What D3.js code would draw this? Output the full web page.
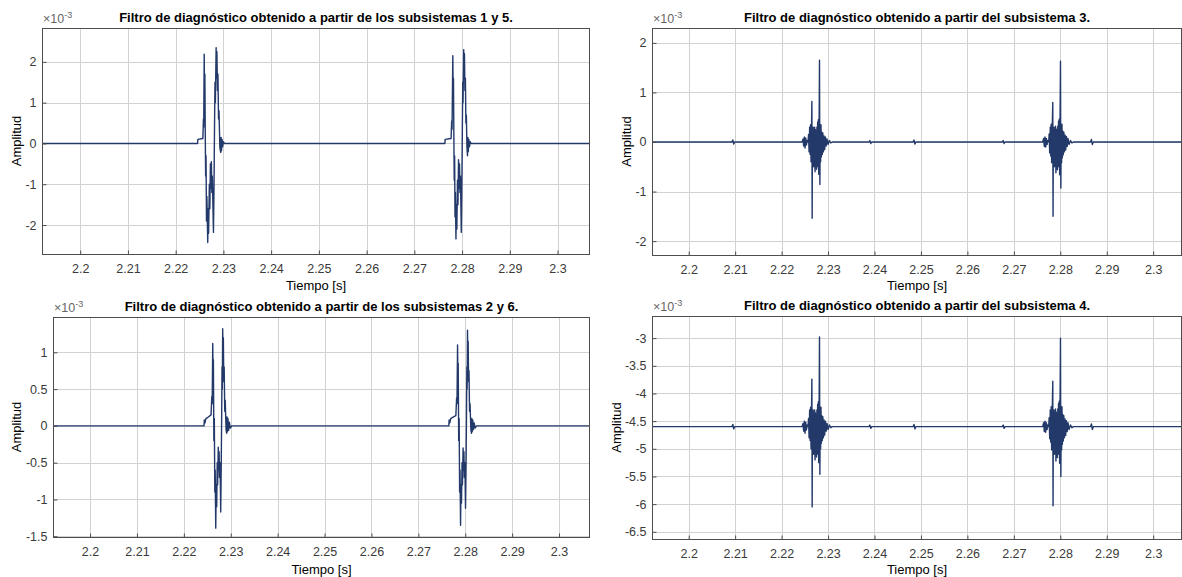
<!DOCTYPE html>
<html>
<head>
<meta charset="utf-8">
<script src="https://cdn.jsdelivr.net/npm/d3@7"></script>
<style>
  body { margin: 0; background: #fff; }
  svg { display: block; font-family: "Liberation Sans", Arial, sans-serif; }
</style>
</head>
<body>
<svg id="chart" width="1182" height="577"></svg>
<script>
// =========================================================
//  Filtros de diagnóstico — 4 panels (2x2), MATLAB style
//  values in units of 1e-3
// =========================================================

const X_TICKS = [2.2, 2.21, 2.22, 2.23, 2.24, 2.25, 2.26, 2.27, 2.28, 2.29, 2.3];
const X_TICK_LABELS = ['2.2', '2.21', '2.22', '2.23', '2.24', '2.25', '2.26', '2.27', '2.28', '2.29', '2.3'];

const TITLES = [
  'Filtro de diagnóstico obtenido a partir de los subsistemas 1 y 5.',
  'Filtro de diagnóstico obtenido a partir del subsistema 3.',
  'Filtro de diagnóstico obtenido a partir de los subsistemas 2 y 6.',
  'Filtro de diagnóstico obtenido a partir del subsistema 4.'
];

const Y_TICKS_A = [-2, -1, 0, 1, 2];
const Y_TICKS_B = [-2, -1, 0, 1, 2];
const Y_TICKS_C = [-1.5, -1, -0.5, 0, 0.5, 1];
const Y_TICKS_D = [-6.5, -6, -5.5, -5, -4.5, -4, -3.5, -3];

const BASE_A = 0, BASE_B = 0, BASE_C = 0, BASE_D = -4.6;

// --- subsistemas 1 y 5 ---
const A_BURST1 = [
  [2.2246, 0], [2.22465, 0.1], [2.2257, 0.12], [2.22582, 0.6], [2.22588, 0.4], [2.22598, 2.19],
  [2.22606, 1.0], [2.22612, 1.7], [2.2262, 0.3], [2.22628, -0.8], [2.22636, -0.3], [2.22646, -1.9],
  [2.22654, -1.3], [2.22672, -2.43], [2.22682, -1.6], [2.2269, -2.2], [2.22706, -1.0], [2.22716, -1.6],
  [2.22728, -0.5], [2.22738, -1.1], [2.22748, -0.45], [2.22758, -1.2], [2.22768, -0.8], [2.22792, -2.18],
  [2.22804, -1.0], [2.22814, 0.4], [2.22824, 1.5], [2.22832, 1.0], [2.22848, 2.35], [2.22856, 1.6],
  [2.22864, 2.25], [2.22876, 1.3], [2.22886, 1.7], [2.22898, 0.6], [2.22908, 0.8], [2.22926, -0.1],
  [2.22944, -0.22], [2.22952, 0.15], [2.2296, -0.18], [2.22972, 0.1], [2.22984, -0.08], [2.23, 0.04],
  [2.2302, 0]
];
const A_BURST2 = [
  [2.2764, 0], [2.27645, 0.1], [2.2777, 0.12], [2.27782, 0.55], [2.2779, 0.35], [2.27806, 2.15],
  [2.27814, 1.0], [2.2782, 1.6], [2.27828, 0.2], [2.27836, -0.9], [2.27844, -0.3], [2.27852, -1.8],
  [2.2786, -1.2], [2.27872, -2.34], [2.2788, -1.5], [2.2789, -2.1], [2.27904, -0.9], [2.27914, -1.5],
  [2.27926, -0.4], [2.27936, -1.1], [2.27946, -0.5], [2.27956, -1.2], [2.27966, -0.8], [2.27984, -2.18],
  [2.27996, -1.0], [2.28006, 0.4], [2.28014, 1.5], [2.2802, 1.0], [2.28034, 2.3], [2.28042, 1.6],
  [2.2805, 2.2], [2.2806, 1.3], [2.2807, 1.6], [2.2808, 0.5], [2.2809, 0.7], [2.28102, -0.1],
  [2.28114, -0.3], [2.28122, 0.15], [2.2813, -0.2], [2.28142, 0.1], [2.28156, -0.08], [2.2817, 0.04],
  [2.2819, 0]
];

// --- subsistema 3 ---
const B_BURST1 = [
  [2.2244, 0], [2.22462, 0.06], [2.22475, -0.08], [2.2249, 0.1], [2.22505, -0.12], [2.2252, 0.08],
  [2.22535, -0.06], [2.2255, 0.03], [2.2257, 0], [2.2258, 0.15], [2.22592, -0.2], [2.22604, 0.3],
  [2.22614, -0.25], [2.22624, 0.35], [2.22634, -0.4], [2.22644, 0.25], [2.22652, 0.82], [2.22658, -1.54],
  [2.22664, 0.2], [2.22672, -0.45], [2.2268, 0.3], [2.22688, -0.5], [2.22696, 0.2], [2.22704, -0.35],
  [2.22712, 0.3], [2.2272, -0.6], [2.22728, 0.25], [2.22736, -0.45], [2.22744, 0.2], [2.22752, -0.55],
  [2.2276, 0.3], [2.22768, -0.5], [2.22776, 0.4], [2.22784, -0.3], [2.22792, 0.45], [2.228, -0.65],
  [2.22808, 0.35], [2.22816, 1.65], [2.22824, -0.86], [2.22832, 0.3], [2.2284, -0.4], [2.22848, 0.35],
  [2.22856, -0.3], [2.22866, 0.2], [2.22876, -0.25], [2.22888, 0.18], [2.229, -0.2], [2.22914, 0.12],
  [2.22928, -0.15], [2.22944, 0.1], [2.2296, -0.08], [2.22978, 0.06], [2.23, -0.05], [2.2303, 0.03],
  [2.2306, -0.02], [2.2309, 0]
];
const B_BURST2 = [
  [2.2762, 0], [2.27642, 0.07], [2.27656, -0.09], [2.2767, 0.1], [2.27686, -0.1], [2.277, 0.07],
  [2.27716, -0.05], [2.2773, 0.03], [2.2775, 0], [2.2776, 0.16], [2.27772, -0.22], [2.27784, 0.3],
  [2.27794, -0.28], [2.27804, 0.36], [2.27814, -0.42], [2.27826, 0.25], [2.27838, 0.8], [2.27844, -1.5],
  [2.2785, 0.22], [2.27858, -0.48], [2.27866, 0.3], [2.27874, -0.5], [2.27882, 0.22], [2.2789, -0.38],
  [2.27898, 0.32], [2.27906, -0.62], [2.27914, 0.26], [2.27922, -0.46], [2.2793, 0.22], [2.27938, -0.56],
  [2.27946, 0.32], [2.27954, -0.5], [2.27962, 0.42], [2.2797, -0.32], [2.27978, 0.46], [2.27986, -0.66],
  [2.27994, 0.38], [2.28004, 1.63], [2.28012, -0.93], [2.2802, 0.32], [2.28028, -0.42], [2.28036, 0.36],
  [2.28044, -0.32], [2.28054, 0.22], [2.28064, -0.26], [2.28076, 0.2], [2.28088, -0.2], [2.28102, 0.14],
  [2.28116, -0.16], [2.28132, 0.11], [2.28148, -0.09], [2.28166, 0.07], [2.28188, -0.05], [2.2822, 0.03],
  [2.2825, -0.02], [2.2828, 0]
];
const B_BLIPS = [
  [2.2093, 0], [2.2095, 0.04], [2.2097, -0.04], [2.2099, 0],
  [2.2388, 0], [2.239, 0.03], [2.2392, -0.03], [2.2394, 0],
  [2.2483, 0], [2.2485, 0.04], [2.2487, -0.04], [2.2489, 0],
  [2.2675, 0], [2.2677, 0.03], [2.2679, -0.03], [2.2681, 0],
  [2.2865, 0], [2.2867, 0.05], [2.2869, -0.05], [2.2871, 0]
];

// --- subsistemas 2 y 6 ---
const C_BURST1 = [
  [2.2243, 0], [2.22436, 0.08], [2.2245, 0.04], [2.2247, 0.1], [2.2252, 0.12], [2.2258, 0.15],
  [2.22596, 0.4], [2.22604, 0.3], [2.22616, 1.12], [2.22624, 0.6], [2.2263, 0.9], [2.2264, -0.2],
  [2.2265, 0.1], [2.2266, -0.9], [2.22668, -0.6], [2.2268, -1.39], [2.2269, -0.8], [2.227, -1.1],
  [2.22712, -0.5], [2.2272, -0.8], [2.22734, -0.29], [2.22744, -0.6], [2.22752, -0.35], [2.2276, -0.7],
  [2.22772, -0.5], [2.22786, -1.17], [2.22796, -0.6], [2.22806, 0.1], [2.22814, 0.8], [2.2282, 0.5],
  [2.22828, 1.32], [2.22836, 0.9], [2.22842, 1.2], [2.22852, 0.6], [2.2286, 0.8], [2.22872, 0.2],
  [2.22882, 0.35], [2.229, -0.05], [2.22912, -0.1], [2.2292, 0.12], [2.22928, -0.08], [2.2294, 0.1],
  [2.22954, -0.06], [2.2297, 0.05], [2.2299, -0.03], [2.2302, 0]
];
const C_BURST2 = [
  [2.2765, 0], [2.27656, 0.08], [2.2767, 0.04], [2.2769, 0.1], [2.2774, 0.12], [2.278, 0.14],
  [2.27816, 0.38], [2.27824, 0.3], [2.27836, 1.1], [2.27844, 0.6], [2.2785, 0.85], [2.2786, -0.2],
  [2.2787, 0.1], [2.2788, -0.9], [2.27888, -0.6], [2.279, -1.35], [2.2791, -0.8], [2.2792, -1.05],
  [2.27932, -0.5], [2.2794, -0.8], [2.27954, -0.3], [2.27964, -0.6], [2.27972, -0.35], [2.2798, -0.7],
  [2.27992, -0.5], [2.28006, -1.12], [2.28016, -0.6], [2.28026, 0.1], [2.28034, 0.8], [2.2804, 0.5],
  [2.28048, 1.3], [2.28056, 0.9], [2.28062, 1.15], [2.28072, 0.6], [2.2808, 0.75], [2.28092, 0.2],
  [2.28102, 0.3], [2.2812, -0.05], [2.28132, -0.1], [2.2814, 0.1], [2.28148, -0.08], [2.2816, 0.08],
  [2.28174, -0.05], [2.2819, 0.04], [2.2821, -0.03], [2.2824, 0]
];

// --- subsistema 4 ---
const D_BURST1 = [
  [2.2244, -4.6], [2.22462, -4.54], [2.22475, -4.68], [2.2249, -4.5], [2.22505, -4.72], [2.2252, -4.52],
  [2.22535, -4.66], [2.2255, -4.57], [2.2257, -4.6], [2.2258, -4.45], [2.22592, -4.8], [2.22604, -4.3],
  [2.22614, -4.85], [2.22624, -4.25], [2.22634, -5.0], [2.22644, -4.35], [2.22652, -3.74], [2.22658, -6.05],
  [2.22664, -4.4], [2.22672, -5.05], [2.2268, -4.3], [2.22688, -5.1], [2.22696, -4.4], [2.22704, -4.95],
  [2.22712, -4.3], [2.2272, -5.2], [2.22728, -4.35], [2.22736, -5.05], [2.22744, -4.4], [2.22752, -5.15],
  [2.2276, -4.3], [2.22768, -5.1], [2.22776, -4.2], [2.22784, -4.9], [2.22792, -4.15], [2.228, -5.25],
  [2.22808, -4.25], [2.22816, -2.98], [2.22824, -5.46], [2.22832, -4.3], [2.2284, -5.0], [2.22848, -4.25],
  [2.22856, -4.9], [2.22866, -4.4], [2.22876, -4.85], [2.22888, -4.42], [2.229, -4.8], [2.22914, -4.48],
  [2.22928, -4.75], [2.22944, -4.5], [2.2296, -4.68], [2.22978, -4.54], [2.23, -4.65], [2.2303, -4.57],
  [2.2306, -4.62], [2.2309, -4.6]
];
const D_BURST2 = [
  [2.2762, -4.6], [2.27642, -4.53], [2.27656, -4.69], [2.2767, -4.5], [2.27686, -4.7], [2.277, -4.53],
  [2.27716, -4.65], [2.2773, -4.57], [2.2775, -4.6], [2.2776, -4.44], [2.27772, -4.82], [2.27784, -4.3],
  [2.27794, -4.88], [2.27804, -4.24], [2.27814, -5.02], [2.27826, -4.35], [2.27838, -3.78], [2.27844, -6.03],
  [2.2785, -4.38], [2.27858, -5.08], [2.27866, -4.3], [2.27874, -5.1], [2.27882, -4.38], [2.2789, -4.98],
  [2.27898, -4.28], [2.27906, -5.22], [2.27914, -4.34], [2.27922, -5.06], [2.2793, -4.38], [2.27938, -5.16],
  [2.27946, -4.28], [2.27954, -5.1], [2.27962, -4.18], [2.2797, -4.92], [2.27978, -4.14], [2.27986, -5.26],
  [2.27994, -4.22], [2.28004, -3.0], [2.28012, -5.5], [2.2802, -4.28], [2.28028, -5.02], [2.28036, -4.24],
  [2.28044, -4.92], [2.28054, -4.38], [2.28064, -4.86], [2.28076, -4.4], [2.28088, -4.8], [2.28102, -4.46],
  [2.28116, -4.76], [2.28132, -4.49], [2.28148, -4.69], [2.28166, -4.53], [2.28188, -4.65], [2.2822, -4.57],
  [2.2825, -4.62], [2.2828, -4.6]
];
const D_BLIPS = [
  [2.2093, -4.6], [2.2095, -4.56], [2.2097, -4.64], [2.2099, -4.6],
  [2.2388, -4.6], [2.239, -4.57], [2.2392, -4.63], [2.2394, -4.6],
  [2.2483, -4.6], [2.2485, -4.56], [2.2487, -4.64], [2.2489, -4.6],
  [2.2675, -4.6], [2.2677, -4.57], [2.2679, -4.63], [2.2681, -4.6],
  [2.2865, -4.6], [2.2867, -4.55], [2.2869, -4.65], [2.2871, -4.6]
];

// ---------------------------------------------------------
const LINE_COLOR = '#22396a';
const GRID_COLOR = '#d2d2d2';
const AXIS_COLOR = '#4d4d4d';
const TEXT_COLOR = '#3a3a3a';
const FONT = '"Liberation Sans", Arial, sans-serif';

const svg = d3.select('#chart');

const panels = [
  { box: { l: 42, t: 28, r: 590, b: 254 }, xDom: [2.192, 2.3068], yDom: [-2.71, 2.83],
    yTicks: Y_TICKS_A, base: BASE_A, series: [A_BURST1, A_BURST2], title: TITLES[0],
    titleY: 22, xLabY: 290, yLabX: 21 },
  { box: { l: 652, t: 28, r: 1182, b: 255 }, xDom: [2.1921, 2.3062], yDom: [-2.28, 2.3],
    yTicks: Y_TICKS_B, base: BASE_B, series: [B_BLIPS, B_BURST1, B_BURST2], title: TITLES[1],
    titleY: 22, xLabY: 290, yLabX: 631 },
  { box: { l: 53, t: 317, r: 590, b: 537 }, xDom: [2.1921, 2.3066], yDom: [-1.51, 1.48],
    yTicks: Y_TICKS_C, base: BASE_C, series: [C_BURST1, C_BURST2], title: TITLES[2],
    titleY: 311, xLabY: 574, yLabX: 21 },
  { box: { l: 652, t: 316, r: 1182, b: 539 }, xDom: [2.1921, 2.3062], yDom: [-6.63, -2.6],
    yTicks: Y_TICKS_D, base: BASE_D, series: [D_BLIPS, D_BURST1, D_BURST2], title: TITLES[3],
    titleY: 310, xLabY: 574, yLabX: 621 }
];

panels.forEach(p => {
  const { l, t, r, b } = p.box;
  const x = d3.scaleLinear().domain(p.xDom).range([l, r]);
  const y = d3.scaleLinear().domain(p.yDom).range([b, t]);
  const g = svg.append('g');

  // grid
  g.append('g').selectAll('line').data(X_TICKS).join('line')
    .attr('x1', d => Math.round(x(d)) + 0.5).attr('x2', d => Math.round(x(d)) + 0.5)
    .attr('y1', t).attr('y2', b)
    .attr('stroke', GRID_COLOR).attr('stroke-width', 1);
  g.append('g').selectAll('line').data(p.yTicks).join('line')
    .attr('x1', l).attr('x2', r)
    .attr('y1', d => Math.round(y(d)) + 0.5).attr('y2', d => Math.round(y(d)) + 0.5)
    .attr('stroke', GRID_COLOR).attr('stroke-width', 1);

  // signal
  const pts = [[p.xDom[0], p.base]].concat(...p.series.map(s => s.slice()))
    .concat([[p.xDom[1], p.base]])
    .sort((a, c) => a[0] - c[0]);
  const clipId = 'clip' + l + '_' + t;
  g.append('clipPath').attr('id', clipId)
    .append('rect').attr('x', l).attr('y', t).attr('width', r - l).attr('height', b - t);
  g.append('path').datum(pts)
    .attr('clip-path', `url(#${clipId})`)
    .attr('fill', 'none')
    .attr('stroke', LINE_COLOR)
    .attr('stroke-width', 1.4)
    .attr('stroke-linejoin', 'round')
    .attr('d', d3.line().x(d => x(d[0])).y(d => y(d[1])));

  // axes (ticks pointing inward, MATLAB style)
  g.append('g').attr('transform', `translate(0,${b + 0.5})`)
    .call(d3.axisBottom(x).tickValues(X_TICKS).tickFormat((d, i) => X_TICK_LABELS[i])
      .tickSizeInner(-4).tickSizeOuter(0).tickPadding(10))
    .call(a => a.select('.domain').remove())
    .call(a => a.selectAll('line').attr('stroke', AXIS_COLOR))
    .call(a => a.selectAll('text').attr('fill', TEXT_COLOR).attr('font-size', 12.5)
      .attr('font-family', FONT));
  g.append('g').attr('transform', `translate(${l + 0.5},0)`)
    .call(d3.axisLeft(y).tickValues(p.yTicks).tickFormat(d => String(d))
      .tickSizeInner(-4).tickSizeOuter(0).tickPadding(6))
    .call(a => a.select('.domain').remove())
    .call(a => a.selectAll('line').attr('stroke', AXIS_COLOR))
    .call(a => a.selectAll('text').attr('fill', TEXT_COLOR).attr('font-size', 12.5)
      .attr('font-family', FONT));

  // box
  g.append('rect')
    .attr('x', l + 0.5).attr('y', t + 0.5)
    .attr('width', r - l - 1).attr('height', b - t)
    .attr('fill', 'none').attr('stroke', AXIS_COLOR).attr('stroke-width', 1);

  // exponent
  const ex = g.append('text')
    .attr('x', l + 1).attr('y', t - 5)
    .attr('font-size', 12.5).attr('fill', '#666');
  ex.append('tspan').text('×10');
  ex.append('tspan').attr('dy', -5).attr('font-size', 9).text('-3');

  // title
  g.append('text')
    .attr('x', (l + r) / 2).attr('y', p.titleY)
    .attr('text-anchor', 'middle')
    .attr('font-size', 13).attr('font-weight', 'bold').attr('fill', '#000')
    .text(p.title);

  // axis labels
  g.append('text')
    .attr('x', (l + r) / 2).attr('y', p.xLabY)
    .attr('text-anchor', 'middle')
    .attr('font-size', 13).attr('fill', '#000')
    .text('Tiempo [s]');
  g.append('text')
    .attr('transform', `translate(${p.yLabX},${(t + b) / 2}) rotate(-90)`)
    .attr('text-anchor', 'middle')
    .attr('font-size', 13).attr('fill', '#000')
    .text('Amplitud');
});
</script>
</body>
</html>
